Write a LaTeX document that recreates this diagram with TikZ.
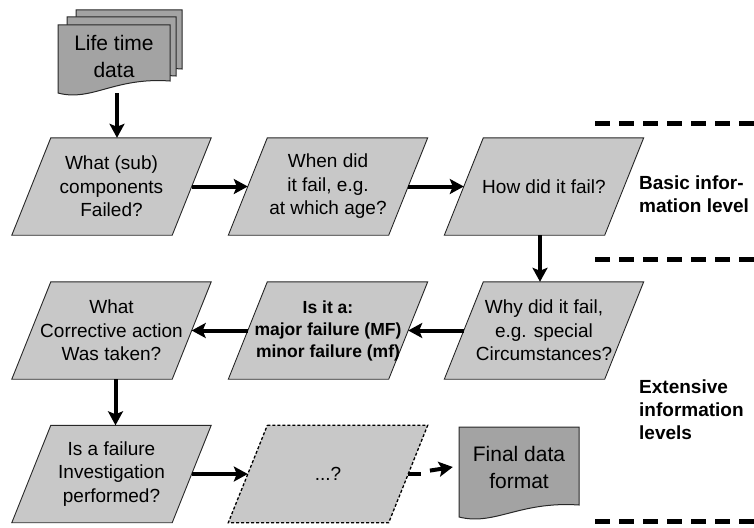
\documentclass[tikz,border=0pt]{standalone}
\usepackage{fontspec}
\setmainfont{Liberation Sans}
\usetikzlibrary{arrows.meta,calc,backgrounds}

\definecolor{boxgray}{RGB}{200,200,200}
\definecolor{docgray}{RGB}{163,163,163}
\definecolor{edgegray}{RGB}{40,40,40}

% document symbol: left x, top y, right x, bottom-left y (y grows downwards)
\newcommand\docshape[4]{%
  \filldraw[docstyle] (#1,#2) -- (#3,#2) -- (#3,{#4-12})
    .. controls ({#1+0.5*(#3-#1)},{#4-16}) and ({#1+0.3*(#3-#1)},{#4+9}) .. (#1,#4) -- cycle;}

% slanted frame around a flow step node (its east/west anchors lie on the sides)
\newcommand\paraframe[2][]{%
  \filldraw[paraline,#1] ([xshift=19.5pt]#2.north west) -- ([xshift=19.5pt]#2.north east)
    -- ([xshift=-19.5pt]#2.south east) -- ([xshift=-19.5pt]#2.south west) -- cycle;}

\begin{document}
\begin{tikzpicture}[x=1pt,y=-1pt,
  flowbox/.style={rectangle, minimum width=160pt, minimum height=97pt,
    inner sep=0pt, align=center, font=\fontsize{19}{23.5}\selectfont},
  paraline/.style={draw=edgegray, line width=0.9pt, fill=boxgray},
  docstyle/.style={draw=edgegray, line width=1pt, fill=docgray},
  doctext/.style={inner sep=0pt, align=center, font=\fontsize{21}{27}\selectfont},
  arr/.style={line width=4pt, -{Stealth[length=14pt,width=15pt,inset=3pt]}},
  levelsep/.style={line width=5pt, dash pattern=on 15pt off 9pt},
  sidelabel/.style={anchor=west, align=left, inner sep=0pt,
    font=\bfseries\fontsize{19}{23}\selectfont}]

\useasboundingbox (0,0) rectangle (754,527);

% stack of life time data documents
\docshape{76}{10}{182}{81}
\docshape{67}{17}{176}{88}
\docshape{58}{25}{170}{93}
\node[doctext] (ltd) at (114,56) {Life time\\data};
\coordinate (ltdbot) at (117,93);

% first row: basic information
\node[flowbox] (p1) at (111.5,186.5) {What (sub)\\components\\Failed?};
\node[flowbox] (p2) at (328,186.5) {When did\\it fail, e.g.\\at which age?};
\node[flowbox] (p3) at (544,186.5) {How did it fail?};

% second row
\node[flowbox] (p4) at (544,330.5) {Why did it fail,\\e.g. special\\Circumstances?};
\node[flowbox, font=\bfseries\fontsize{17.5}{22}\selectfont] (p5) at (328,330.5)
  {Is it a:\\major failure (MF)\\minor failure (mf)};
\node[flowbox] (p6) at (111.5,330.5) {What\\Corrective action\\Was taken?};

% third row
\node[flowbox] (p7) at (111.5,474) {Is a failure\\Investigation\\performed?};
\node[flowbox] (p8) at (328,474) {...?};

\begin{scope}[on background layer]
  \foreach \n in {p1,p2,p3,p4,p5,p6,p7} {\paraframe{\n}}
  \paraframe[draw=black, line width=1.3pt, dash pattern=on 3pt off 2pt]{p8}
\end{scope}

% final data document
\docshape{459}{427}{579}{517}
\node[doctext, minimum width=120pt, minimum height=80pt] (fdf) at (519,467)
  {Final data\\format};

% flow
\draw[arr] (ltdbot) -- (ltdbot |- p1.north);
\draw[arr] (p1.east) -- (p2.west);
\draw[arr] (p2.east) -- (p3.west);
\draw[arr] ([xshift=-4pt]p3.south) -- ([xshift=-4pt]p4.north);
\draw[arr] (p4.west) -- (p5.east);
\draw[arr] (p5.west) -- (p6.east);
\draw[arr] ([xshift=4pt]p6.south) -- ([xshift=4pt]p7.north);
\draw[arr] (p7.east) -- (p8.west);
% dashed link: one dash, a gap, then the solid head
\draw[line width=4pt] (p8.east) -- ([xshift=13pt]p8.east);
\draw[arr, shorten <=22pt] (p8.east) -- ([xshift=-6pt]fdf.west);

% information level separators and labels
\draw[levelsep] (595,123) -- (754,123);
\draw[levelsep] (595,259) -- (754,259);
\draw[levelsep] (595,521) -- (754,521);
\node[sidelabel] (lvbasic) at (639,194) {Basic infor-\\mation level};
\node[sidelabel] (lvext) at (639,410) {Extensive\\information\\levels};

\end{tikzpicture}
\end{document}
